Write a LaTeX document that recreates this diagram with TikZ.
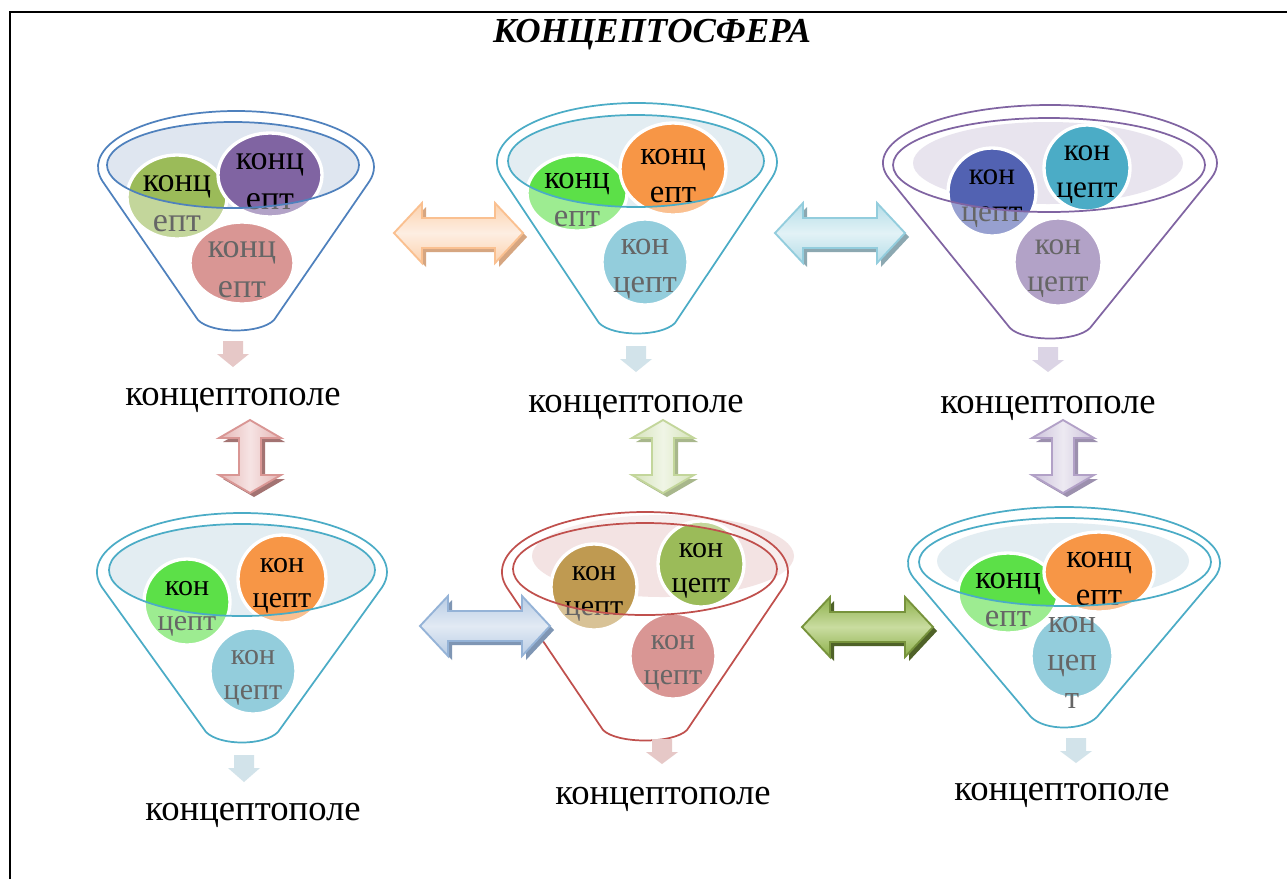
\documentclass[tikz,border=0pt]{standalone}
\usepackage{fontspec}
\setmainfont{Liberation Serif}
\definecolor{cBlue}{HTML}{4F81BD}
\definecolor{cTeal}{HTML}{4BACC6}
\definecolor{cPurple}{HTML}{8064A2}
\definecolor{cRed}{HTML}{C0504D}
\definecolor{cOlive}{HTML}{9BBB59}
\definecolor{cOrange}{HTML}{F79646}
\definecolor{cLime}{HTML}{5CE048}
\definecolor{cNavy}{HTML}{5262B2}
\definecolor{cBrown}{HTML}{BF9A51}
\definecolor{fBlue}{HTML}{DFE6F0}
\definecolor{fTeal}{HTML}{E3EDF2}
\definecolor{fPurple}{HTML}{E8E4EE}
\definecolor{fRed}{HTML}{F3E3E3}
\definecolor{sPink}{HTML}{E6C8C7}
\definecolor{sBlue}{HTML}{D2E3EA}
\definecolor{sLav}{HTML}{DBD4E5}
% arrow colours: border, edge, centre, shadow
\definecolor{aOb}{HTML}{FAC090}\definecolor{aOe}{HTML}{FCD2AE}\definecolor{aOc}{HTML}{FDEEE2}\definecolor{aOs}{HTML}{D6A681}
\definecolor{aTb}{HTML}{93CDDD}\definecolor{aTe}{HTML}{B5DDE8}\definecolor{aTc}{HTML}{E2F2F6}\definecolor{aTs}{HTML}{8CA8B1}
\definecolor{aBb}{HTML}{95B3D7}\definecolor{aBe}{HTML}{B8CCE4}\definecolor{aBc}{HTML}{E2EAF4}\definecolor{aBs}{HTML}{7F96B4}
\definecolor{aGb}{HTML}{77933C}\definecolor{aGe}{HTML}{8DB04A}\definecolor{aGc}{HTML}{C9DCA0}\definecolor{aGs}{HTML}{4F6228}
\definecolor{aRb}{HTML}{D99694}\definecolor{aRe}{HTML}{E4B4B3}\definecolor{aRc}{HTML}{F6E4E4}\definecolor{aRs}{HTML}{A37372}
\definecolor{aLb}{HTML}{C3D69B}\definecolor{aLe}{HTML}{D5E3BA}\definecolor{aLc}{HTML}{F0F5E6}\definecolor{aLs}{HTML}{A8B78C}
\definecolor{aPb}{HTML}{B2A1C7}\definecolor{aPe}{HTML}{CBC0DA}\definecolor{aPc}{HTML}{EDEAF2}\definecolor{aPs}{HTML}{9C90AE}
\tikzset{
  ctext/.style={align=center, text=black, inner sep=0pt, yshift=-5pt},
  fieldtext/.style={anchor=base, inner sep=0pt, font=\fontsize{27.5}{30}\selectfont},
  rim/.style={line width=1.3pt},
  cwhite/.style={draw=white, line width=2.5pt},
}
% funnel outline: cx cy R Ry bottom-half-width bottom-y
\newcommand\fpath[6]{({#1-0.966*#3},{#2+0.259*#4}) arc[start angle=165,end angle=375,x radius=#3,y radius=#4] -- ({#1+#5},{#6}) .. controls ({#1+#5-14},{#6+14}) and ({#1-#5+14},{#6+14}) .. ({#1-#5},{#6}) -- cycle}
% concept circle: name x y rx ry color text
\newcommand\conc[7]{%
  \fill[cwhite, fill=#6] (#2,#3) ellipse [x radius=#4, y radius=#5];
  \node[ctext] (#1) at (#2,#3) {#7};}
% small down arrow: name x ytop ybottom color
\newcommand\sdown[5]{%
  \fill[#5] (#2-10,#3) -- (#2+10,#3) -- (#2+10,#3+13) -- (#2+16,#3+13) -- (#2,#4) -- (#2-16,#3+13) -- (#2-10,#3+13) -- cycle;
  \coordinate (#1) at (#2,#4);}
% horizontal double arrow: x1 x2 y colourprefix
\newcommand\hdarrow[4]{%
  \fill[#4s] (#1+4,#3+4) -- (#1+32,#3-26) -- (#1+32,#3-11) -- (#2-24,#3-11) -- (#2-24,#3-26) -- (#2+4,#3+4) -- (#2-24,#3+34) -- (#2-24,#3+19) -- (#1+32,#3+19) -- (#1+32,#3+34) -- cycle;
  \draw[draw=#4b, line width=1.4pt, top color=#4e, bottom color=#4e, middle color=#4c, line join=miter] (#1,#3) -- (#1+28,#3-30) -- (#1+28,#3-15) -- (#2-28,#3-15) -- (#2-28,#3-30) -- (#2,#3) -- (#2-28,#3+30) -- (#2-28,#3+15) -- (#1+28,#3+15) -- (#1+28,#3+30) -- cycle;}
% vertical double arrow: x y1 y2 colourprefix
\newcommand\vdarrow[4]{%
  \fill[#4s] (#1+4,#2+4) -- (#1+35,#2+22) -- (#1+15,#2+22) -- (#1+15,#3-14) -- (#1+35,#3-14) -- (#1+4,#3+4) -- (#1-27,#3-14) -- (#1-7,#3-14) -- (#1-7,#2+22) -- (#1-27,#2+22) -- cycle;
  \draw[draw=#4b, line width=1.4pt, left color=#4e, right color=#4e, middle color=#4c, line join=miter] (#1,#2) -- (#1+31,#2+18) -- (#1+11,#2+18) -- (#1+11,#3-18) -- (#1+31,#3-18) -- (#1,#3) -- (#1-31,#3-18) -- (#1-11,#3-18) -- (#1-11,#2+18) -- (#1-31,#2+18) -- cycle;}
\begin{document}
\begin{tikzpicture}[x=0.75pt, y=-0.75pt]
\useasboundingbox (0,0) rectangle (1287,879);
\fill[white] (0,0) rectangle (1287,879);
% frame
\draw[black, line width=1.6pt] (10,879) -- (10,12) -- (1287,12);
\node[font=\fontsize{26.3}{30}\selectfont\bfseries\itshape] (title) at (652,35) {КОНЦЕПТОСФЕРА};

% ---------- Funnel 1 ----------
\begin{scope}[ctext/.append style={font=\fontsize{25.5}{29.5}\selectfont}]
\fill[fBlue] (233,165) ellipse [x radius=126, y radius=43];
\conc{f1a}{177}{197}{50}{42}{cOlive}{конц\\епт}
\conc{f1b}{270}{175}{52}{42}{cPurple}{конц\\епт}
\conc{f1c}{242}{263}{52}{41}{cRed}{конц\\епт}
\fill[white, fill opacity=0.4, even odd rule] \fpath{236}{167}{138}{56}{38}{320} (233,165) ellipse [x radius=126, y radius=43];
\draw[cBlue, rim] \fpath{236}{167}{138}{56}{38}{320};
\draw[cBlue, rim] (233,165) ellipse [x radius=126, y radius=43];
\end{scope}

% ---------- Funnel 2 ----------
\begin{scope}[ctext/.append style={font=\fontsize{24.5}{28.5}\selectfont}]
\fill[fTeal] (636,161) ellipse [x radius=128, y radius=46];
\conc{f2a}{577}{193}{50}{38}{cLime}{конц\\епт}
\conc{f2b}{673}{169}{53}{46}{cOrange}{конц\\епт}
\conc{f2c}{645}{262}{43}{43}{cTeal}{кон\\цепт}
\fill[white, fill opacity=0.4, even odd rule] \fpath{637}{162}{140}{59}{38}{323} (636,161) ellipse [x radius=128, y radius=46];
\draw[cTeal, rim] \fpath{637}{162}{140}{59}{38}{323};
\draw[cTeal, rim] (636,161) ellipse [x radius=128, y radius=46];
\end{scope}

% ---------- Funnel 3 ----------
\begin{scope}[ctext/.append style={font=\fontsize{23.5}{27.5}\selectfont}]
\fill[fPurple] (1048,163) ellipse [x radius=135, y radius=41];
\conc{f3a}{992}{192}{44}{44}{cNavy}{кон\\цепт}
\conc{f3b}{1087}{168}{43}{43}{cTeal}{кон\\цепт}
\conc{f3c}{1058}{262}{44}{44}{cPurple}{кон\\цепт}
\fill[white, fill opacity=0.4, even odd rule] \fpath{1050}{163}{167}{58}{40}{328} (1049,165) ellipse [x radius=156, y radius=47];
\draw[cPurple, rim] \fpath{1050}{163}{167}{58}{40}{328};
\draw[cPurple, rim] (1049,165) ellipse [x radius=156, y radius=47];
\end{scope}

% ---------- Funnel 4 ----------
\begin{scope}[ctext/.append style={font=\fontsize{22.5}{26.5}\selectfont}]
\fill[fTeal] (242,570) ellipse [x radius=133, y radius=46];
\conc{f4a}{187}{602}{43}{43}{cLime}{кон\\цепт}
\conc{f4b}{282}{579}{44}{44}{cOrange}{кон\\цепт}
\conc{f4c}{253}{671}{43}{43}{cTeal}{кон\\цепт}
\fill[white, fill opacity=0.4, even odd rule] \fpath{242}{572}{145}{59}{36}{732} (242,570) ellipse [x radius=133, y radius=46];
\draw[cTeal, rim] \fpath{242}{572}{145}{59}{36}{732};
\draw[cTeal, rim] (242,570) ellipse [x radius=133, y radius=46];
\end{scope}

% ---------- Funnel 5 ----------
\begin{scope}[ctext/.append style={font=\fontsize{22.5}{26.5}\selectfont}]
\fill[fRed] (663,556) ellipse [x radius=131, y radius=41];
\conc{f5a}{594}{587}{43}{43}{cBrown}{кон\\цепт}
\conc{f5b}{701}{564}{43}{43}{cOlive}{кон\\цепт}
\conc{f5c}{673}{656}{43}{43}{cRed}{кон\\цепт}
\fill[white, fill opacity=0.4, even odd rule] \fpath{645}{572}{143}{60}{42}{730} (645,569) ellipse [x radius=132, y radius=46];
\draw[cRed, rim] \fpath{645}{572}{143}{60}{42}{730};
\draw[cRed, rim] (645,569) ellipse [x radius=132, y radius=46];
\end{scope}

% ---------- Funnel 6 ----------
\begin{scope}[ctext/.append style={font=\fontsize{24.5}{28.5}\selectfont}]
\fill[fTeal] (1063,561) ellipse [x radius=126, y radius=38];
\conc{f6a}{1008}{593}{50}{40}{cLime}{конц\\епт}
\conc{f6b}{1099}{572}{55}{40}{cOrange}{конц\\епт}
\conc{f6c}{1072}{656}{41}{42}{cTeal}{кон\\цеп\\т}
\fill[white, fill opacity=0.4, even odd rule] \fpath{1064}{563}{156}{56}{33}{717} (1065,562) ellipse [x radius=146, y radius=44];
\draw[cTeal, rim] \fpath{1064}{563}{156}{56}{33}{717};
\draw[cTeal, rim] (1065,562) ellipse [x radius=146, y radius=44];
\end{scope}

% small down arrows
\sdown{d1}{233}{341}{367}{sPink}
\sdown{d2}{636}{346}{372}{sBlue}
\sdown{d3}{1048}{347}{372}{sLav}
\sdown{d4}{244}{755}{782}{sBlue}
\sdown{d5}{662}{739}{764}{sPink}
\sdown{d6}{1076}{738}{763}{sBlue}

% field labels
\node[fieldtext] (p1) at (233,405) {концептополе};
\node[fieldtext] (p2) at (636,412) {концептополе};
\node[fieldtext] (p3) at (1048,413) {концептополе};
\node[fieldtext] (p4) at (253,820) {концептополе};
\node[fieldtext] (p5) at (663,804) {концептополе};
\node[fieldtext] (p6) at (1062,800) {концептополе};

% horizontal double arrows
\hdarrow{394}{523}{233}{aO}
\hdarrow{775}{905}{233}{aT}
\hdarrow{420}{550}{626}{aB}
\hdarrow{802}{933}{627}{aG}

% vertical double arrows
\vdarrow{250}{420}{493}{aR}
\vdarrow{663}{420}{493}{aL}
\vdarrow{1063}{420}{493}{aP}
\end{tikzpicture}
\end{document}
